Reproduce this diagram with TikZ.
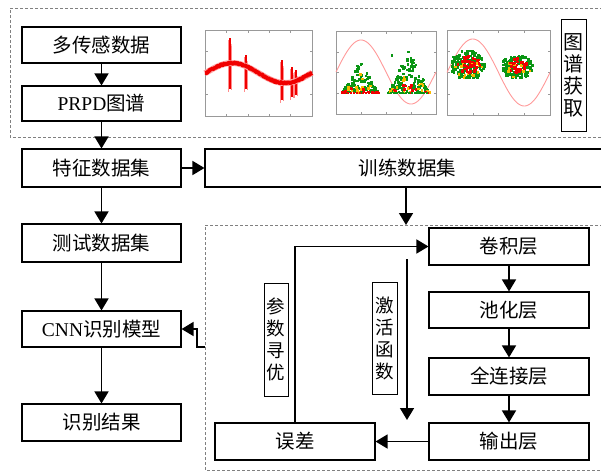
\documentclass[tikz,border=0pt]{standalone}
\usepackage{fontspec}
\setmainfont{Noto Sans CJK SC}
\newfontfamily\lat{Liberation Serif}
\usetikzlibrary{arrows.meta}
\definecolor{ptgreen}{RGB}{10,150,20}
\definecolor{ptyellow}{RGB}{250,185,0}
\definecolor{ptred}{RGB}{240,0,0}
\newcommand\mypile[6]{\foreach \k in {1,...,#6}{\pgfmathsetmacro\uu{rnd}\pgfmathsetmacro\vv{rnd}\fill[#5] ({#1+\uu*#2-1.3},{#3-\vv*#4*(1-abs(2*\uu-1))-1.3}) rectangle ++(2.6,2.6);}}
\newcommand\myblob[6]{\foreach \k in {1,...,#6}{\pgfmathsetmacro\ang{360*rnd}\pgfmathsetmacro\rr{sqrt(rnd)}\pgfmathsetmacro\px{#1+#3*\rr*cos(\ang)}\pgfmathsetmacro\py{min(#2+#4*\rr*sin(\ang),#2+#4*0.85)}\fill[#5] (\px-1.3,\py-1.3) rectangle ++(2.6,2.6);}}
\begin{document}
\begin{tikzpicture}[x=1pt,y=-1pt,
  box/.style={draw, line width=1.1pt, inner sep=0pt, font=\fontsize{19.5}{22}\selectfont},
  vbox/.style={draw, line width=1pt, inner sep=0pt, align=center, font=\fontsize{18.5}{22}\selectfont},
  arr/.style={line width=1.5pt, -{Triangle[width=14pt,length=12pt]}},
  dashbox/.style={draw=gray, line width=0.8pt, dash pattern=on 3pt off 2pt},
  frame/.style={draw=gray!80, line width=0.5pt}]
\useasboundingbox (0,0) rectangle (601,471);
\clip (0,0) rectangle (601,471);
\pgfmathsetseed{7}

% dashed groups
\draw[dashbox] (603,8) -- (10,8) -- (10,137) -- (603,137);
\draw[dashbox] (603,225) -- (205,225) -- (205,470) -- (603,470);
\coordinate (dtop) at (406,225);
\coordinate (dleft) at (205,347);

% left column
\node[box, minimum width=159, minimum height=36] (m1) at (101.5,45) {多传感数据};
\node[box, minimum width=159, minimum height=35] (m2) at (101.5,103.5) {{\lat PRPD}图谱};
\node[box, minimum width=159, minimum height=38] (feat) at (101.5,168) {特征数据集};
\node[box, minimum width=159, minimum height=38] (test) at (101.5,243) {测试数据集};
\node[box, minimum width=159, minimum height=36] (cnn) at (101.5,329) {{\lat CNN}识别模型};
\node[box, minimum width=159, minimum height=37] (res) at (101.5,422.5) {识别结果};
\node[box, minimum width=405, minimum height=38] (train) at (407.5,168) {训练数据集};

% right column
\node[box, minimum width=160, minimum height=37] (conv) at (509,246.5) {卷积层};
\node[box, minimum width=160, minimum height=36] (pool) at (509,310) {池化层};
\node[box, minimum width=160, minimum height=37] (fc) at (509,376.5) {全连接层};
\node[box, minimum width=160, minimum height=37] (out) at (509,441.5) {输出层};
\node[box, minimum width=160, minimum height=37] (err) at (295,441.5) {误差};

\node[vbox, minimum width=25, minimum height=112, font=\fontsize{20}{22}\selectfont] (acq) at (573.5,75) {图\\谱\\获\\取};
\node[vbox, minimum width=24, minimum height=113] (opt) at (276,339.5) {参\\数\\寻\\优};
\node[vbox, minimum width=25, minimum height=112] (act) at (384.5,338) {激\\活\\函\\数};

% arrows
\draw[arr] (m1.south) -- (m2.north);
\draw[arr] (m2.south) -- (feat.north);
\draw[arr] (feat.east) -- (train.west);
\draw[arr] (feat.south) -- (test.north);
\draw[arr] (test.south) -- (cnn.north);
\draw[arr] (cnn.south) -- (res.north);
\draw[arr] (dtop |- train.south) -- (dtop);
\draw[arr] (dleft) -- ++(-8,0) |- (cnn.east);
\draw[arr] (conv.south) -- (pool.north);
\draw[arr] (pool.south) -- (fc.north);
\draw[arr] (fc.south) -- (out.north);
\draw[arr] (out.west) -- (err.east);
\draw[arr] (err.north) |- (conv.west);
\coordinate (a1) at (407,259);
\coordinate (a2) at (407,420);
\draw[arr] (a1) -- (a2);

% plot 1
\draw[frame] (205,30) rectangle (312,116);
\foreach \t in {0,...,5}{\draw[frame] ({205+\t*21.4},116) -- ++(0,-2.5); \draw[frame] ({205+\t*21.4},30) -- ++(0,2.5);}
\foreach \t in {0,...,4}{\draw[frame] (205,{30+\t*21.5}) -- ++(2.5,0); \draw[frame] (312,{30+\t*21.5}) -- ++(-2.5,0);}
\foreach \sx/\ta/\tb in {230/38/92, 246/55/92, 282/60/103, 292/67/100, 296/70/98}{
  \draw[red!30, line width=3.5pt] (\sx,\ta+6) -- (\sx,\tb-4);
  \draw[red!45, line width=0.8pt] (\sx-1.5,\ta+2) -- (\sx-1.5,\tb);
  \draw[red!45, line width=0.8pt] (\sx+1.5,\ta+8) -- (\sx+1.5,\tb-2);
  \draw[ptred, line width=1.2pt] (\sx,\ta) -- (\sx,\tb-3);}
\draw[red!35, line width=6pt, line join=round] plot[domain=205:312, samples=100] (\x,{73-10*cos((\x-232)/53*180)});
\draw[ptred, line width=4pt, line join=round] plot[domain=205:312, samples=160] (\x,{73-10*cos((\x-232)/53*180)+1.4*(rnd-0.5)});

% plot 2
\draw[frame] (336,31) rectangle (436,114);
\foreach \t in {0,...,4}{\draw[frame] ({336+\t*25},114) -- ++(0,-2.5); \draw[frame] ({336+\t*25},31) -- ++(0,2.5);}
\foreach \t in {0,...,4}{\draw[frame] (336,{31+\t*20.75}) -- ++(2.5,0); \draw[frame] (436,{31+\t*20.75}) -- ++(-2.5,0);}
\draw[red!40, line width=0.9pt] plot[domain=336:436, samples=100] (\x,{72-32*sin((\x-336)/100*360)});
\mypile{342}{37}{93}{32}{ptgreen}{110}
\mypile{342}{37}{93}{20}{ptyellow}{18}
\mypile{342}{37}{93}{12}{ptred}{12}
\mypile{388}{42}{93}{42}{ptgreen}{130}
\mypile{388}{42}{93}{24}{ptyellow}{20}
\mypile{388}{42}{93}{14}{ptred}{14}
\foreach \xx in {342,345,...,378}{\fill[ptred] (\xx-1.3,91.7) rectangle ++(2.6,2.6);}
\foreach \xx in {388,391,...,429}{\fill[ptgreen] (\xx-1.3,91.7) rectangle ++(2.6,2.6);}
\fill[ptgreen] (390.5,54) rectangle ++(2.6,2.6);

% plot 3
\draw[frame] (447,30) rectangle (550,115);
\foreach \t in {0,...,4}{\draw[frame] ({447+\t*25.75},115) -- ++(0,-2.5); \draw[frame] ({447+\t*25.75},30) -- ++(0,2.5);}
\foreach \t in {0,...,4}{\draw[frame] (447,{30+\t*21.25}) -- ++(2.5,0); \draw[frame] (550,{30+\t*21.25}) -- ++(-2.5,0);}
\draw[red!40, line width=0.9pt] plot[domain=447:550, samples=100] (\x,{72.5-33.5*sin((\x-447)/103*360)});
\myblob{468}{65}{17}{15}{ptgreen}{150}
\myblob{468}{70}{15}{9}{ptyellow}{16}
\myblob{469}{64}{11}{10}{ptred}{40}
\myblob{517.5}{67}{16}{12}{ptgreen}{130}
\myblob{517.5}{70}{14}{8}{ptyellow}{12}
\myblob{518}{66}{9}{8}{ptred}{30}
\end{tikzpicture}
\end{document}
